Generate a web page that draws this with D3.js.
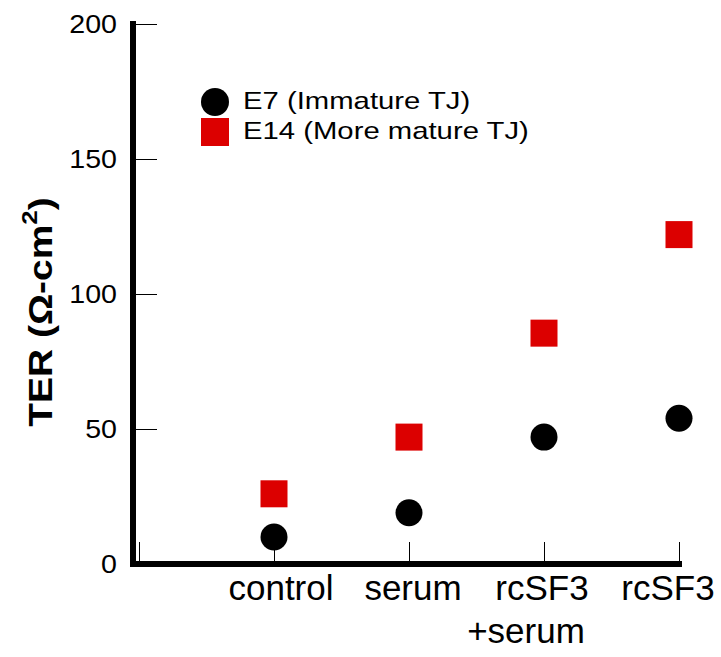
<!DOCTYPE html>
<html>
<head>
<meta charset="utf-8">
<script src="https://cdn.jsdelivr.net/npm/d3@7"></script>
<style>
  body { margin: 0; background: #fff; }
  text { font-family: "Liberation Sans", Arial, sans-serif; }
</style>
</head>
<body>
<svg id="chart" width="721" height="657"></svg>
<script>
// data
const categories = ['control', 'serum', 'rcSF3\n+serum', 'rcSF3'];
const e7Values = [10, 19, 47, 54];
const e14Values = [26, 47, 85.5, 122];
const yTicks = [0, 50, 100, 150, 200];
const seriesNames = ['E7 (Immature TJ)', 'E14 (More mature TJ)'];

// layout: labels in the source sit a little off their ticks
const labelNudge = [7, 4, -2, -11];
const RED = '#dc0000';
const svg = d3.select('#chart');

// scales: category i sits at position i+1, position 0 is the empty origin slot
const x = d3.scaleLinear().domain([0, 4]).range([139, 679]);
const y = d3.scaleLinear().domain([0, 200]).range([564, 24]);

// y ticks (inward, thin)
const yAxis = d3.axisRight(y).tickValues(yTicks).tickSize(21).tickFormat('');
svg.append('g')
  .attr('transform', 'translate(136,0)')
  .call(yAxis)
  .call(g => g.select('.domain').remove())
  .call(g => g.selectAll('line').attr('stroke', '#000').attr('stroke-width', 1));

// y tick labels (source font renders a bit wider)
svg.append('g').selectAll('text')
  .data(yTicks)
  .enter()
  .append('text')
  .attr('transform', d => `translate(117,${y(d)}) scale(1.1,1)`)
  .attr('dy', '0.35em')
  .attr('text-anchor', 'end')
  .attr('font-size', 26)
  .attr('fill', '#000')
  .text(d => d);

// x ticks (upward, thin)
const xAxis = d3.axisTop(x).tickValues([0, 1, 2, 3, 4]).tickSize(19).tickFormat('');
svg.append('g')
  .attr('transform', 'translate(0,561)')
  .call(xAxis)
  .call(g => g.select('.domain').remove())
  .call(g => g.selectAll('line').attr('stroke', '#000').attr('stroke-width', 1));

// thick axis lines
svg.append('line')
  .attr('x1', 133).attr('x2', 133)
  .attr('y1', 21).attr('y2', 567)
  .attr('stroke', '#000').attr('stroke-width', 6);
svg.append('line')
  .attr('x1', 130).attr('x2', 682)
  .attr('y1', 564).attr('y2', 564)
  .attr('stroke', '#000').attr('stroke-width', 6);

// category labels
const catLabels = svg.append('g').selectAll('text')
  .data(categories)
  .enter()
  .append('text')
  .attr('text-anchor', 'middle')
  .attr('font-size', 35)
  .attr('fill', '#000')
  .attr('transform', (d, i) => `translate(${x(i + 1) + labelNudge[i]},600)`);

catLabels.selectAll('tspan')
  .data(d => d.split('\n'))
  .enter()
  .append('tspan')
  .attr('x', (d, i) => i === 0 ? 0 : -16)
  .attr('dy', (d, i) => i === 0 ? 0 : 43)
  .text(d => d);

// E14 squares
const side = 27;
svg.append('g').selectAll('rect')
  .data(e14Values)
  .enter()
  .append('rect')
  .attr('x', (d, i) => x(i + 1) - side / 2)
  .attr('y', d => y(d) - side / 2)
  .attr('width', side)
  .attr('height', side)
  .attr('fill', RED);

// E7 circles
svg.append('g').selectAll('circle')
  .data(e7Values)
  .enter()
  .append('circle')
  .attr('cx', (d, i) => x(i + 1))
  .attr('cy', d => y(d))
  .attr('r', 13.5)
  .attr('fill', '#000');

// legend
const legend = svg.append('g');
legend.append('circle')
  .attr('cx', 215).attr('cy', 102).attr('r', 14)
  .attr('fill', '#000');
legend.append('rect')
  .attr('x', 201).attr('y', 118).attr('width', 28).attr('height', 28)
  .attr('fill', RED);
legend.selectAll('text')
  .data(seriesNames)
  .enter()
  .append('text')
  .attr('transform', (d, i) => `translate(243,${109 + i * 30}) scale(1.22,1)`)
  .attr('font-size', 24)
  .attr('fill', '#000')
  .text(d => d);

// y title
const yTitle = svg.append('text')
  .attr('transform', 'translate(52,312) rotate(-90) scale(1.18,1)')
  .attr('text-anchor', 'middle')
  .attr('font-size', 33)
  .attr('font-weight', 'bold')
  .attr('fill', '#000');
yTitle.append('tspan').text('TER (Ω-cm');
yTitle.append('tspan').attr('font-size', 22).attr('dy', -15).text('2');
yTitle.append('tspan').attr('dy', 15).text(')');
</script>
</body>
</html>
